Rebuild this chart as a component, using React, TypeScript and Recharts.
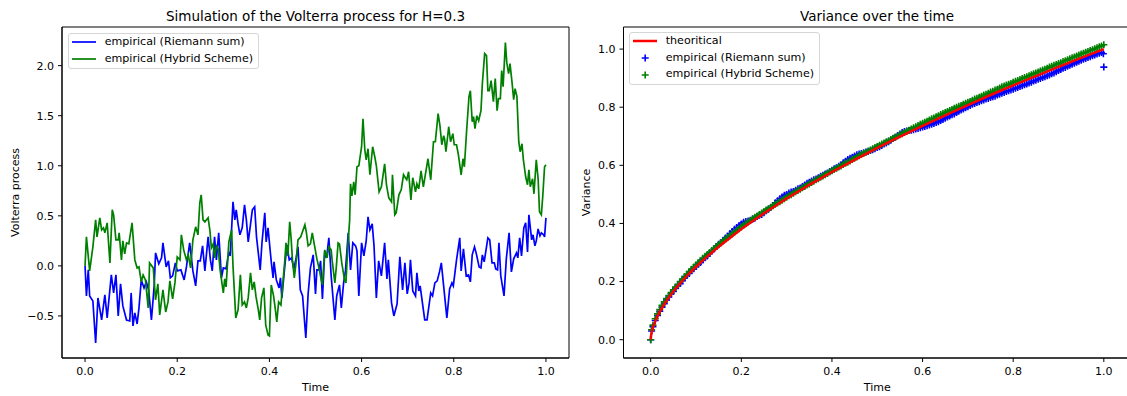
import React from 'react';
import { ComposedChart, Line, Scatter, XAxis, YAxis, ReferenceArea } from 'recharts';

const FONT = '"DejaVu Sans", sans-serif';

// left panel: one simulated path per scheme, [time, value]
const riemannPath: [number, number][] = [
  [0, 0], [0.003, -0.3], [0.007, -0.04], [0.01, -0.3], [0.017, -0.35], [0.023, -0.77], [0.028, -0.32], [0.036, -0.54],
  [0.043, -0.29], [0.048, -0.52], [0.057, -0.09], [0.062, -0.27], [0.067, -0.09], [0.072, -0.5], [0.077, -0.18], [0.082, -0.4],
  [0.09, -0.54], [0.097, -0.55], [0.1, -0.27], [0.104, -0.6], [0.108, -0.47], [0.113, -0.58], [0.117, -0.42], [0.122, -0.14],
  [0.128, -0.22], [0.133, -0.16], [0.138, -0.24], [0.144, -0.54], [0.15, -0.2], [0.153, 0.13], [0.16, 0.02], [0.166, 0.08],
  [0.169, 0.23], [0.176, -0.01], [0.181, 0.05], [0.185, -0.12], [0.19, -0.1], [0.196, 0.03], [0.2, -0.05], [0.208, -0.04],
  [0.215, -0.14], [0.22, -0.01], [0.227, 0.23], [0.234, -0.05], [0.24, -0.2], [0.245, 0.05], [0.25, 0.05], [0.255, 0.2],
  [0.26, -0.05], [0.267, 0.29], [0.272, 0.06], [0.276, -0.05], [0.281, 0.29], [0.285, 0.06], [0.29, 0.33], [0.296, -0.12],
  [0.3, -0.02], [0.306, -0.03], [0.312, 0.14], [0.315, 0.1], [0.321, 0.64], [0.325, 0.46], [0.328, 0.56], [0.332, 0.42],
  [0.336, 0.31], [0.341, 0.38], [0.346, 0.61], [0.35, 0.46], [0.354, 0.24], [0.358, 0.38], [0.363, 0.56], [0.368, 0.59],
  [0.372, 0.29], [0.38, -0.04], [0.384, 0.24], [0.39, 0.53], [0.393, 0.24], [0.397, 0.38], [0.404, 0.04], [0.408, -0.12],
  [0.41, 0.04], [0.415, -0.14], [0.421, -0.22], [0.424, -0.12], [0.427, -0.32], [0.433, -0.02], [0.438, 0.21], [0.443, 0.06],
  [0.448, 0.08], [0.453, -0.03], [0.458, 0.08], [0.462, 0.19], [0.467, -0.24], [0.472, -0.3], [0.479, -0.72], [0.484, -0.28],
  [0.489, -0.02], [0.495, 0.11], [0.5, -0.28], [0.503, -0.04], [0.508, -0.04], [0.511, 0.05], [0.515, -0.33], [0.52, 0.14],
  [0.524, 0.08], [0.529, 0.28], [0.534, -0.1], [0.542, -0.54], [0.546, -0.3], [0.552, -0.19], [0.556, -0.42], [0.561, -0.17],
  [0.565, -0.05], [0.571, 0.33], [0.576, -0.04], [0.581, 0.23], [0.587, 0.2], [0.59, 0.15], [0.594, -0.3], [0.6, 0.23],
  [0.605, 0.1], [0.61, 0.25], [0.614, 0.49], [0.618, 0.36], [0.623, 0.42], [0.627, 0.2], [0.632, -0.32], [0.637, 0.05],
  [0.643, -0.1], [0.65, 0.23], [0.655, -0.13], [0.658, 0.06], [0.665, -0.37], [0.67, -0.5], [0.677, -0.38], [0.683, 0.09],
  [0.689, -0.24], [0.694, 0.03], [0.699, -0.28], [0.703, -0.17], [0.706, 0.06], [0.711, -0.25], [0.717, -0.3], [0.72, -0.07],
  [0.724, -0.25], [0.727, -0.2], [0.737, -0.54], [0.742, -0.54], [0.75, -0.27], [0.754, -0.3], [0.759, -0.17], [0.764, -0.15],
  [0.769, -0.06], [0.773, 0.03], [0.778, -0.2], [0.785, -0.52], [0.791, -0.23], [0.796, -0.17], [0.799, -0.2], [0.806, 0.06],
  [0.813, 0.28], [0.816, -0.05], [0.821, 0.17], [0.827, -0.1], [0.832, -0.09], [0.836, -0.16], [0.84, 0.11], [0.845, 0.19],
  [0.849, 0.12], [0.855, -0.01], [0.859, -0.02], [0.862, 0.11], [0.866, 0.04], [0.874, 0.28], [0.878, 0.26], [0.883, 0.03],
  [0.888, 0.03], [0.891, -0.03], [0.895, -0.04], [0.898, 0.23], [0.902, -0.1], [0.909, -0.3], [0.914, 0.07], [0.92, 0.33],
  [0.925, -0.06], [0.93, 0.07], [0.936, 0.13], [0.939, 0.08], [0.943, 0.28], [0.947, 0.1], [0.952, 0.38], [0.956, 0.43],
  [0.96, 0.14], [0.963, 0.51], [0.969, 0.26], [0.972, 0.31], [0.976, 0.2], [0.979, 0.25], [0.983, 0.37], [0.987, 0.3],
  [0.99, 0.33], [0.995, 0.31], [0.997, 0.29], [1.0, 0.48],
];

const hybridPath: [number, number][] = [
  [0, 0], [0.003, 0.29], [0.01, -0.05], [0.017, 0.19], [0.023, 0.46], [0.026, 0.29], [0.032, 0.48], [0.036, 0.36],
  [0.04, 0.38], [0.043, 0.33], [0.048, 0.43], [0.054, 0.03], [0.059, 0.56], [0.062, 0.51], [0.067, 0.26], [0.072, 0.26],
  [0.074, 0.33], [0.079, 0.06], [0.082, 0.25], [0.086, 0.12], [0.09, 0.23], [0.095, 0.22], [0.102, 0.43], [0.108, 0.06],
  [0.113, -0.02], [0.117, -0.01], [0.122, -0.16], [0.126, -0.09], [0.131, -0.14], [0.137, -0.42], [0.14, 0.03], [0.148, -0.02],
  [0.153, -0.34], [0.158, -0.18], [0.162, -0.49], [0.169, -0.24], [0.175, -0.46], [0.18, -0.36], [0.184, -0.15], [0.19, -0.33],
  [0.195, -0.17], [0.2, 0.09], [0.206, 0.06], [0.209, 0.31], [0.214, 0.16], [0.22, 0.06], [0.224, 0.11], [0.229, -0.02],
  [0.234, 0.26], [0.24, 0.39], [0.245, 0.31], [0.249, 0.63], [0.252, 0.71], [0.256, 0.46], [0.26, 0.44], [0.267, 0.48],
  [0.271, 0.35], [0.274, 0.18], [0.278, 0.22], [0.281, 0.08], [0.285, 0.2], [0.289, 0.17], [0.293, -0.04], [0.3, -0.27],
  [0.303, -0.13], [0.306, -0.21], [0.312, 0.24], [0.318, 0.36], [0.321, 0.0], [0.327, -0.52], [0.332, -0.44], [0.337, -0.09],
  [0.341, -0.39], [0.346, -0.36], [0.35, -0.42], [0.354, -0.32], [0.359, -0.07], [0.363, -0.24], [0.367, -0.16], [0.371, -0.31],
  [0.376, -0.44], [0.379, -0.54], [0.383, -0.32], [0.388, -0.22], [0.392, -0.59], [0.397, -0.69], [0.4, -0.7], [0.404, -0.19],
  [0.409, -0.3], [0.413, -0.44], [0.416, -0.56], [0.42, -0.36], [0.425, -0.39], [0.433, 0.03], [0.436, 0.23], [0.44, 0.1],
  [0.444, 0.44], [0.447, 0.28], [0.45, 0.06], [0.454, -0.12], [0.458, 0.04], [0.462, 0.26], [0.468, 0.29], [0.477, 0.41],
  [0.48, 0.34], [0.484, 0.2], [0.489, 0.22], [0.493, 0.33], [0.498, 0.2], [0.503, 0.07], [0.508, -0.03], [0.512, -0.13],
  [0.515, -0.19], [0.52, 0.16], [0.525, 0.08], [0.529, 0.19], [0.534, 0.16], [0.536, 0.06], [0.542, -0.17], [0.545, -0.02],
  [0.549, 0.23], [0.552, 0.22], [0.557, 0.03], [0.563, -0.14], [0.566, -0.17], [0.57, 0.19], [0.574, 0.45], [0.576, 0.82],
  [0.579, 0.7], [0.583, 0.84], [0.586, 0.71], [0.59, 0.99], [0.594, 1.0], [0.6, 1.19], [0.603, 1.47], [0.607, 1.16],
  [0.61, 1.06], [0.614, 1.17], [0.618, 0.91], [0.624, 1.19], [0.629, 1.08], [0.632, 1.0], [0.638, 0.74], [0.643, 0.79],
  [0.65, 1.02], [0.654, 0.81], [0.659, 0.68], [0.665, 0.64], [0.667, 0.91], [0.672, 0.51], [0.675, 0.53], [0.681, 0.71],
  [0.686, 0.76], [0.691, 0.91], [0.695, 0.88], [0.698, 0.86], [0.702, 0.94], [0.707, 0.66], [0.711, 0.88], [0.717, 0.74],
  [0.72, 0.82], [0.724, 0.77], [0.729, 0.95], [0.734, 0.79], [0.744, 1.07], [0.75, 0.86], [0.756, 1.24], [0.76, 1.24],
  [0.766, 1.52], [0.77, 1.4], [0.774, 1.21], [0.778, 1.3], [0.78, 1.27], [0.783, 1.14], [0.789, 1.39], [0.793, 1.24],
  [0.798, 1.32], [0.801, 1.21], [0.806, 1.21], [0.81, 1.11], [0.816, 0.91], [0.82, 1.07], [0.823, 0.99], [0.828, 1.36],
  [0.833, 1.69], [0.836, 1.75], [0.84, 1.44], [0.843, 1.49], [0.846, 1.37], [0.85, 1.5], [0.854, 1.45], [0.859, 1.55],
  [0.862, 1.82], [0.867, 2.12], [0.871, 2.1], [0.874, 1.75], [0.877, 1.75], [0.881, 1.85], [0.886, 1.64], [0.89, 1.87],
  [0.894, 1.55], [0.897, 1.67], [0.901, 1.67], [0.904, 1.95], [0.907, 1.79], [0.912, 2.23], [0.915, 2.03], [0.919, 1.92],
  [0.922, 2.02], [0.926, 1.85], [0.93, 1.66], [0.933, 1.77], [0.937, 1.69], [0.941, 1.24], [0.944, 1.14], [0.948, 1.22],
  [0.951, 1.06], [0.956, 0.89], [0.96, 0.81], [0.963, 0.96], [0.966, 0.79], [0.971, 0.87], [0.974, 0.72], [0.979, 1.06],
  [0.983, 0.87], [0.986, 0.54], [0.99, 0.51], [0.993, 0.69], [0.997, 0.99], [1.0, 1.01],
];

// right panel: variance curves
const theoryVariance: [number, number][] = [
  [0, 0], [0.001, 0.016], [0.002, 0.024], [0.005, 0.042], [0.01, 0.063], [0.015, 0.081], [0.02, 0.096], [0.03, 0.122],
  [0.04, 0.145], [0.05, 0.166], [0.06, 0.185], [0.08, 0.22], [0.1, 0.251], [0.12, 0.28], [0.15, 0.32], [0.2, 0.381],
  [0.25, 0.435], [0.3, 0.486], [0.35, 0.533], [0.4, 0.577], [0.45, 0.619], [0.5, 0.66], [0.55, 0.699], [0.6, 0.736],
  [0.65, 0.772], [0.7, 0.807], [0.75, 0.842], [0.8, 0.875], [0.85, 0.907], [0.9, 0.939], [0.95, 0.97], [1.0, 1.0],
];

const riemannVariance: [number, number][] = [
  [0, 0], [0.002, 0.03], [0.005, 0.045], [0.01, 0.066], [0.015, 0.083], [0.02, 0.098], [0.025, 0.112], [0.03, 0.124],
  [0.035, 0.137], [0.04, 0.147], [0.045, 0.158], [0.05, 0.166], [0.055, 0.177], [0.06, 0.186], [0.065, 0.193], [0.07, 0.203],
  [0.075, 0.213], [0.08, 0.221], [0.085, 0.228], [0.09, 0.238], [0.095, 0.244], [0.1, 0.252], [0.105, 0.26], [0.11, 0.266],
  [0.115, 0.275], [0.12, 0.282], [0.125, 0.288], [0.13, 0.297], [0.135, 0.305], [0.14, 0.312], [0.145, 0.321], [0.15, 0.328],
  [0.155, 0.334], [0.16, 0.342], [0.165, 0.35], [0.17, 0.356], [0.175, 0.365], [0.18, 0.372], [0.185, 0.38], [0.19, 0.386],
  [0.195, 0.393], [0.2, 0.398], [0.205, 0.404], [0.21, 0.407], [0.215, 0.408], [0.22, 0.411], [0.225, 0.415], [0.23, 0.418],
  [0.235, 0.424], [0.24, 0.428], [0.245, 0.431], [0.25, 0.437], [0.255, 0.444], [0.26, 0.449], [0.265, 0.455], [0.27, 0.462],
  [0.275, 0.471], [0.28, 0.478], [0.285, 0.485], [0.29, 0.491], [0.295, 0.497], [0.3, 0.5], [0.305, 0.505], [0.31, 0.508],
  [0.315, 0.51], [0.32, 0.514], [0.325, 0.519], [0.33, 0.522], [0.335, 0.527], [0.34, 0.532], [0.345, 0.538], [0.35, 0.542],
  [0.355, 0.546], [0.36, 0.55], [0.365, 0.553], [0.37, 0.557], [0.375, 0.562], [0.38, 0.566], [0.385, 0.57], [0.39, 0.574],
  [0.395, 0.579], [0.4, 0.583], [0.405, 0.588], [0.41, 0.592], [0.415, 0.597], [0.42, 0.602], [0.425, 0.609], [0.43, 0.614],
  [0.435, 0.62], [0.44, 0.624], [0.445, 0.628], [0.45, 0.632], [0.455, 0.636], [0.46, 0.639], [0.465, 0.641], [0.47, 0.643],
  [0.475, 0.646], [0.48, 0.648], [0.485, 0.651], [0.49, 0.654], [0.495, 0.657], [0.5, 0.661], [0.505, 0.664], [0.51, 0.668],
  [0.515, 0.673], [0.52, 0.677], [0.525, 0.681], [0.53, 0.686], [0.535, 0.692], [0.54, 0.697], [0.545, 0.703], [0.55, 0.708],
  [0.555, 0.713], [0.56, 0.716], [0.565, 0.718], [0.57, 0.72], [0.575, 0.721], [0.58, 0.722], [0.585, 0.725], [0.59, 0.727],
  [0.595, 0.729], [0.6, 0.732], [0.605, 0.734], [0.61, 0.736], [0.615, 0.739], [0.62, 0.741], [0.625, 0.744], [0.63, 0.747],
  [0.635, 0.75], [0.64, 0.754], [0.645, 0.758], [0.65, 0.762], [0.655, 0.766], [0.66, 0.77], [0.665, 0.774], [0.67, 0.777],
  [0.675, 0.782], [0.68, 0.786], [0.685, 0.79], [0.69, 0.794], [0.695, 0.798], [0.7, 0.802], [0.705, 0.806], [0.71, 0.81],
  [0.715, 0.813], [0.72, 0.816], [0.725, 0.819], [0.73, 0.822], [0.735, 0.825], [0.74, 0.828], [0.745, 0.83], [0.75, 0.833],
  [0.755, 0.836], [0.76, 0.838], [0.765, 0.842], [0.77, 0.845], [0.775, 0.848], [0.78, 0.851], [0.785, 0.854], [0.79, 0.857],
  [0.795, 0.859], [0.8, 0.862], [0.805, 0.865], [0.81, 0.868], [0.815, 0.871], [0.82, 0.874], [0.825, 0.877], [0.83, 0.88],
  [0.835, 0.883], [0.84, 0.886], [0.845, 0.89], [0.85, 0.893], [0.855, 0.896], [0.86, 0.899], [0.865, 0.902], [0.87, 0.905],
  [0.875, 0.908], [0.88, 0.911], [0.885, 0.915], [0.89, 0.918], [0.895, 0.922], [0.9, 0.926], [0.905, 0.93], [0.91, 0.934],
  [0.915, 0.937], [0.92, 0.941], [0.925, 0.944], [0.93, 0.948], [0.935, 0.951], [0.94, 0.955], [0.945, 0.958], [0.95, 0.962],
  [0.955, 0.965], [0.96, 0.968], [0.965, 0.971], [0.97, 0.974], [0.975, 0.977], [0.98, 0.98], [0.985, 0.983], [0.99, 0.986],
  [0.995, 0.988], [0.999, 0.984], [1.0, 0.938],
];

const hybridVariance: [number, number][] = [
  [0, 0], [0.002, 0.034], [0.005, 0.05], [0.01, 0.072], [0.015, 0.089], [0.02, 0.104], [0.025, 0.118], [0.03, 0.13],
  [0.035, 0.142], [0.04, 0.152], [0.045, 0.162], [0.05, 0.172], [0.055, 0.181], [0.06, 0.19], [0.065, 0.2], [0.07, 0.208],
  [0.075, 0.217], [0.08, 0.226], [0.085, 0.234], [0.09, 0.242], [0.095, 0.25], [0.1, 0.258], [0.105, 0.265], [0.11, 0.272],
  [0.115, 0.28], [0.12, 0.287], [0.125, 0.293], [0.13, 0.3], [0.135, 0.307], [0.14, 0.314], [0.145, 0.321], [0.15, 0.327],
  [0.155, 0.334], [0.16, 0.34], [0.165, 0.346], [0.17, 0.352], [0.175, 0.358], [0.18, 0.364], [0.185, 0.37], [0.19, 0.376],
  [0.195, 0.382], [0.2, 0.388], [0.205, 0.394], [0.21, 0.399], [0.215, 0.405], [0.22, 0.41], [0.225, 0.416], [0.23, 0.421],
  [0.235, 0.426], [0.24, 0.431], [0.245, 0.436], [0.25, 0.441], [0.255, 0.446], [0.26, 0.451], [0.265, 0.456], [0.27, 0.461],
  [0.275, 0.466], [0.28, 0.47], [0.285, 0.475], [0.29, 0.48], [0.295, 0.485], [0.3, 0.49], [0.305, 0.495], [0.31, 0.499],
  [0.315, 0.504], [0.32, 0.509], [0.325, 0.513], [0.33, 0.518], [0.335, 0.523], [0.34, 0.527], [0.345, 0.532], [0.35, 0.536],
  [0.355, 0.541], [0.36, 0.545], [0.365, 0.55], [0.37, 0.554], [0.375, 0.559], [0.38, 0.563], [0.385, 0.568], [0.39, 0.572],
  [0.395, 0.577], [0.4, 0.581], [0.405, 0.586], [0.41, 0.59], [0.415, 0.594], [0.42, 0.598], [0.425, 0.603], [0.43, 0.607],
  [0.435, 0.611], [0.44, 0.615], [0.445, 0.62], [0.45, 0.624], [0.455, 0.629], [0.46, 0.633], [0.465, 0.637], [0.47, 0.641],
  [0.475, 0.645], [0.48, 0.649], [0.485, 0.653], [0.49, 0.657], [0.495, 0.661], [0.5, 0.665], [0.505, 0.669], [0.51, 0.673],
  [0.515, 0.677], [0.52, 0.681], [0.525, 0.685], [0.53, 0.689], [0.535, 0.693], [0.54, 0.697], [0.545, 0.701], [0.55, 0.705],
  [0.555, 0.709], [0.56, 0.713], [0.565, 0.717], [0.57, 0.721], [0.575, 0.725], [0.58, 0.729], [0.585, 0.733], [0.59, 0.737],
  [0.595, 0.741], [0.6, 0.745], [0.605, 0.748], [0.61, 0.752], [0.615, 0.756], [0.62, 0.76], [0.625, 0.763], [0.63, 0.767],
  [0.635, 0.771], [0.64, 0.775], [0.645, 0.778], [0.65, 0.782], [0.655, 0.785], [0.66, 0.789], [0.665, 0.792], [0.67, 0.796],
  [0.675, 0.8], [0.68, 0.803], [0.685, 0.806], [0.69, 0.81], [0.695, 0.814], [0.7, 0.817], [0.705, 0.82], [0.71, 0.824],
  [0.715, 0.828], [0.72, 0.831], [0.725, 0.834], [0.73, 0.838], [0.735, 0.842], [0.74, 0.845], [0.745, 0.848], [0.75, 0.852],
  [0.755, 0.855], [0.76, 0.859], [0.765, 0.862], [0.77, 0.866], [0.775, 0.87], [0.78, 0.873], [0.785, 0.876], [0.79, 0.879],
  [0.795, 0.882], [0.8, 0.886], [0.805, 0.889], [0.81, 0.892], [0.815, 0.895], [0.82, 0.899], [0.825, 0.902], [0.83, 0.905],
  [0.835, 0.908], [0.84, 0.912], [0.845, 0.915], [0.85, 0.918], [0.855, 0.921], [0.86, 0.925], [0.865, 0.928], [0.87, 0.931],
  [0.875, 0.934], [0.88, 0.938], [0.885, 0.941], [0.89, 0.944], [0.895, 0.947], [0.9, 0.95], [0.905, 0.953], [0.91, 0.957],
  [0.915, 0.96], [0.92, 0.963], [0.925, 0.967], [0.93, 0.97], [0.935, 0.973], [0.94, 0.976], [0.945, 0.98], [0.95, 0.983],
  [0.955, 0.986], [0.96, 0.989], [0.965, 0.992], [0.97, 0.995], [0.975, 0.998], [0.98, 1.001], [0.985, 1.005], [0.99, 1.008],
  [0.995, 1.011], [1.0, 1.015],
];

const timeTicks = [0, 0.2, 0.4, 0.6, 0.8, 1.0];
const processTicks = [-0.5, 0, 0.5, 1.0, 1.5, 2.0];
const varianceTicks = [0, 0.2, 0.4, 0.6, 0.8, 1.0];

const LABEL_RIEMANN = 'empirical (Riemann sum)';
const LABEL_HYBRID = 'empirical (Hybrid Scheme)';
const LABEL_THEORY = 'theoritical';

const toPoints = (pairs: [number, number][]) => pairs.map(([t, v]) => ({ t, v }));
const fmt = (v: number) => (v < 0 ? '\u2212' : '') + Math.abs(v).toFixed(1);
const tickStyle = { fill: '#000', fontSize: 11, fontFamily: FONT };

const xLabel = (text: string) => (props: any) => {
  const vb = props.viewBox;
  return (
    <text x={vb.x + vb.width / 2} y={vb.y + 32.5} textAnchor="middle" fill="#000" fontSize={11} fontFamily={FONT}>
      {text}
    </text>
  );
};

const yLabel = (text: string, x: number) => (props: any) => {
  const vb = props.viewBox;
  const cy = vb.y + vb.height / 2;
  return (
    <text x={x} y={cy} transform={`rotate(-90, ${x}, ${cy})`} textAnchor="middle" dominantBaseline="central"
      fill="#000" fontSize={11} fontFamily={FONT}>
      {text}
    </text>
  );
};

const Plus = (props: any) => {
  const { cx, cy, fill } = props;
  if (cx == null || cy == null) return null;
  return <path d={`M${cx - 3.5},${cy}H${cx + 3.5}M${cx},${cy - 3.5}V${cy + 3.5}`} stroke={fill} strokeWidth={1.6} fill="none" />;
};

const NoDot = () => <g />;

type LegendItem = { label: string; color: string; kind: 'line' | 'plus'; width?: number };

const LegendBox = ({ left, top, items }: { left: number; top: number; items: LegendItem[] }) => (
  <div style={{
    position: 'absolute', left, top, border: '1px solid #d6d6d6', borderRadius: 3, background: 'rgba(255,255,255,0.8)',
    padding: '0 5px 1px 3px', fontSize: 11.1, fontFamily: FONT, color: '#000',
  }}>
    {items.map((it) => (
      <div key={it.label} style={{ display: 'flex', alignItems: 'center', height: 16.7 }}>
        <svg width={24} height={10} style={{ display: 'block' }}>
          {it.kind === 'line'
            ? <line x1={0} y1={5} x2={24} y2={5} stroke={it.color} strokeWidth={it.width ?? 1.7} />
            : <path d="M8.7,5H15.7M12.2,1.5V8.5" stroke={it.color} strokeWidth={1.6} />}
        </svg>
        <span style={{ marginLeft: 8.7, whiteSpace: 'nowrap', lineHeight: '16.7px' }}>{it.label}</span>
      </div>
    ))}
  </div>
);

const titleStyle: React.CSSProperties = {
  position: 'absolute', top: 8, textAlign: 'center', fontSize: 13.5, lineHeight: '16px', fontFamily: FONT, color: '#000',
  whiteSpace: 'nowrap',
};

export default function App() {
  return (
    <div style={{ position: 'absolute', left: 0, top: 0, width: 1127, height: 396, overflow: 'hidden', background: '#fff' }}>
      <div style={{ position: 'absolute', left: 0, top: 0 }}>
        <ComposedChart width={575} height={396} margin={{ top: 27, right: 6, bottom: 0, left: 0 }}>
          <XAxis type="number" dataKey="t" domain={[-0.05, 1.05]} allowDataOverflow ticks={timeTicks} interval={0}
            tickFormatter={fmt} height={38} stroke="#000" tick={tickStyle} tickSize={4} tickMargin={5} label={xLabel('Time')} />
          <YAxis type="number" domain={[-0.92, 2.386]} allowDataOverflow ticks={processTicks} interval={0}
            tickFormatter={fmt} width={62} stroke="#000" tick={tickStyle} tickSize={4} tickMargin={4}
            label={yLabel('Volterra process', 15)} />
          <ReferenceArea x1={-0.05} x2={1.05} y1={-0.92} y2={2.386} fill="none" stroke="#000" strokeWidth={1} />
          <Line data={toPoints(riemannPath)} dataKey="v" type="linear" stroke="#0000ff" strokeWidth={1.7} dot={false}
            isAnimationActive={false} />
          <Line data={toPoints(hybridPath)} dataKey="v" type="linear" stroke="#008000" strokeWidth={1.7} dot={false}
            isAnimationActive={false} />
        </ComposedChart>
      </div>
      <div style={{ ...titleStyle, left: 62, width: 507 }}>Simulation of the Volterra process for H=0.3</div>
      <LegendBox left={68} top={33} items={[
        { label: LABEL_RIEMANN, color: '#0000ff', kind: 'line' },
        { label: LABEL_HYBRID, color: '#008000', kind: 'line' },
      ]} />

      <div style={{ position: 'absolute', left: 575, top: 0 }}>
        <ComposedChart width={560} height={396} margin={{ top: 27, right: 4, bottom: 0, left: 0 }}>
          <XAxis type="number" dataKey="t" domain={[-0.06, 1.06]} allowDataOverflow ticks={timeTicks} interval={0}
            tickFormatter={fmt} height={38} stroke="#000" tick={tickStyle} tickSize={4} tickMargin={5} label={xLabel('Time')} />
          <YAxis type="number" domain={[-0.063, 1.076]} allowDataOverflow ticks={varianceTicks} interval={0}
            tickFormatter={fmt} width={48.5} stroke="#000" tick={tickStyle} tickSize={4} tickMargin={4}
            label={yLabel('Variance', 11.7)} />
          <ReferenceArea x1={-0.06} x2={1.06} y1={-0.063} y2={1.076} fill="none" stroke="#000" strokeWidth={1} />
          <Scatter data={toPoints(riemannVariance)} dataKey="v" fill="#0000ff" shape={Plus} isAnimationActive={false} />
          <Scatter data={toPoints(hybridVariance)} dataKey="v" fill="#008000" shape={Plus} isAnimationActive={false} />
          {/* theoretical curve drawn as a scatter line so it sits above the markers */}
          <Scatter data={toPoints(theoryVariance)} dataKey="v" fill="none" shape={NoDot} lineType="joint"
            line={{ stroke: '#ff0000', strokeWidth: 2.5, fill: 'none' }} isAnimationActive={false} />
        </ComposedChart>
      </div>
      <div style={{ ...titleStyle, left: 623.5, width: 507 }}>Variance over the time</div>
      <LegendBox left={629} top={32} items={[
        { label: LABEL_THEORY, color: '#ff0000', kind: 'line', width: 2.5 },
        { label: LABEL_RIEMANN, color: '#0000ff', kind: 'plus' },
        { label: LABEL_HYBRID, color: '#008000', kind: 'plus' },
      ]} />
    </div>
  );
}
